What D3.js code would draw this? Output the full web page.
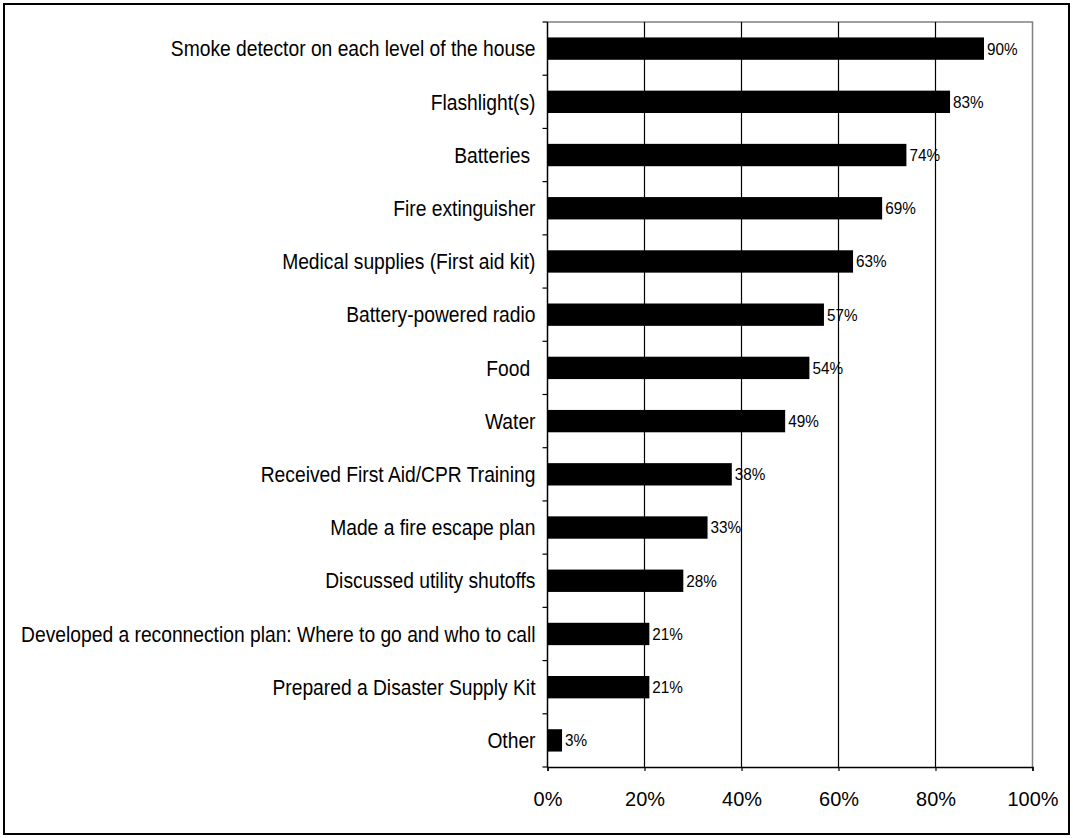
<!DOCTYPE html>
<html>
<head>
<meta charset="utf-8">
<script src="https://cdn.jsdelivr.net/npm/d3@7"></script>
<style>
  html, body { margin: 0; padding: 0; background: #fff; }
  svg text { font-family: "Liberation Sans", Arial, sans-serif; fill: #000; }
</style>
</head>
<body>
<svg id="chart" width="1073" height="838"></svg>
<script>
// Share of respondents reporting each preparedness item
const categories = [
  "Smoke detector on each level of the house",
  "Flashlight(s)",
  "Batteries ",
  "Fire extinguisher",
  "Medical supplies (First aid kit)",
  "Battery-powered radio",
  "Food ",
  "Water",
  "Received First Aid/CPR Training",
  "Made a fire escape plan",
  "Discussed utility shutoffs",
  "Developed a reconnection plan: Where to go and who to call",
  "Prepared a Disaster Supply Kit",
  "Other"
];
const values = [90, 83, 74, 69, 63, 57, 54, 49, 38, 33, 28, 21, 21, 3];
const xTicks = [0, 20, 40, 60, 80, 100];

const svg = d3.select("#chart");
const W = 1073, H = 838;
const plot = { left: 547.5, right: 1032.5, top: 22, bottom: 767 };

// outer frame
svg.append("rect")
  .attr("x", 4).attr("y", 4)
  .attr("width", W - 8).attr("height", H - 8)
  .attr("fill", "none").attr("stroke", "#000").attr("stroke-width", 2);

const x = d3.scaleLinear().domain([0, 100]).range([plot.left, plot.right]);
const y = d3.scaleBand().domain(categories).range([plot.top, plot.bottom]).paddingInner(0.58).paddingOuter(0.29);

// plot frame (top and right edges)
svg.append("path")
  .attr("d", `M${plot.left},${plot.top}H${plot.right}V${plot.bottom}`)
  .attr("fill", "none").attr("stroke", "#808080").attr("stroke-width", 1.5);

// vertical gridlines
svg.append("g").selectAll("line")
  .data(xTicks.filter(t => t > 0 && t < 100))
  .join("line")
  .attr("x1", d => x(d)).attr("x2", d => x(d))
  .attr("y1", plot.top).attr("y2", plot.bottom)
  .attr("stroke", "#000").attr("stroke-width", 1.2);

// bars
svg.append("g").selectAll("rect")
  .data(values)
  .join("rect")
  .attr("x", x(0))
  .attr("y", (d, i) => y(categories[i]))
  .attr("width", d => x(d) - x(0))
  .attr("height", y.bandwidth())
  .attr("fill", "#000");

// value labels (slightly condensed type)
svg.append("g").selectAll("text")
  .data(values)
  .join("text")
  .attr("transform", (d, i) => `translate(${x(d) + 3},${y(categories[i]) + y.bandwidth() / 2}) scale(0.9,1)`)
  .attr("dy", "0.35em")
  .attr("font-size", 17)
  .text(d => d + "%");

// x axis
const xAxis = d3.axisBottom(x)
  .tickValues(xTicks)
  .tickFormat(d => d + "%")
  .tickSize(4)
  .tickPadding(20);
const gx = svg.append("g")
  .attr("transform", `translate(0,${plot.bottom})`)
  .call(xAxis);
gx.select(".domain").attr("stroke", "#000").attr("stroke-width", 1.5);
gx.selectAll(".tick line").attr("stroke", "#000").attr("stroke-width", 1.2);
gx.selectAll(".tick text")
  .attr("font-size", 21)
  .attr("font-family", "Liberation Sans, Arial, sans-serif")
  .attr("fill", "#000")
  .attr("transform", "scale(0.95,1)");

// y axis: ticks at category boundaries
const step = y.step();
const boundaries = d3.range(categories.length + 1).map(i => plot.top + i * step);
svg.append("line")
  .attr("x1", plot.left).attr("x2", plot.left)
  .attr("y1", plot.top).attr("y2", plot.bottom)
  .attr("stroke", "#000").attr("stroke-width", 1.5);
svg.append("g").selectAll("line")
  .data(boundaries)
  .join("line")
  .attr("x1", plot.left - 5).attr("x2", plot.left)
  .attr("y1", d => d).attr("y2", d => d)
  .attr("stroke", "#000").attr("stroke-width", 1.2);

// category labels (condensed type)
svg.append("g").selectAll("text")
  .data(categories)
  .join("text")
  .attr("transform", d => `translate(${plot.left - 12},${y(d) + y.bandwidth() / 2}) scale(0.875,1)`)
  .attr("dy", "0.35em")
  .attr("text-anchor", "end")
  .attr("font-size", 22)
  .style("white-space", "pre")
  .text(d => d);
</script>
</body>
</html>
